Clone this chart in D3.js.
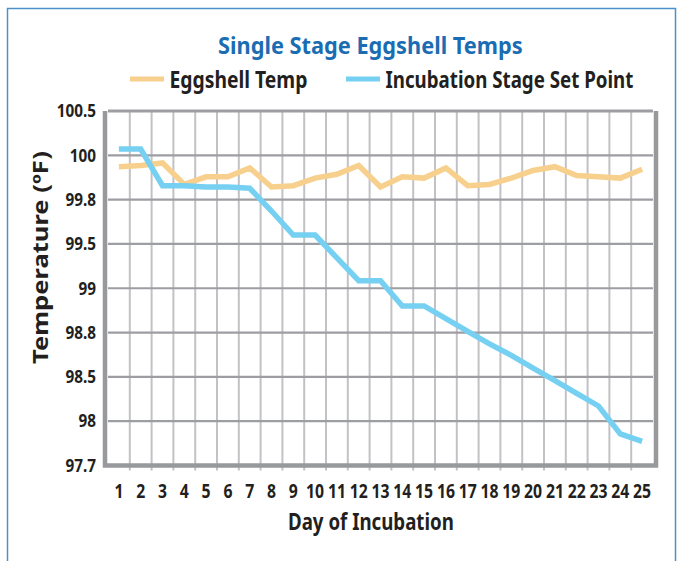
<!DOCTYPE html>
<html>
<head>
<meta charset="utf-8">
<script src="https://cdn.jsdelivr.net/npm/d3@7/dist/d3.min.js"></script>
<style>
    body { margin: 0; background: #fff; }
    text { font-family: "Noto Sans", "Open Sans", sans-serif; font-weight: bold; fill: #231f20; }
</style>
</head>
<body>
<div id="chart"></div>
<script>
// day of incubation
var days = [1, 2, 3, 4, 5, 6, 7, 8, 9, 10, 11, 12, 13, 14, 15, 16, 17, 18, 19, 20, 21, 22, 23, 24, 25];

// eggshell temp (orange)
var eggshell = [100.06, 100.07, 100.09, 99.92, 99.98, 99.98, 100.05, 99.90, 99.91, 99.97, 100.0, 100.07, 99.90,
    99.98, 99.97, 100.05, 99.91, 99.92, 99.97, 100.03, 100.06, 99.99, 99.98, 99.97, 100.04];

// incubation stage set point (blue)
var setPoint = [100.2, 100.2, 99.91, 99.91, 99.90, 99.90, 99.89, 99.71, 99.52, 99.52, 99.34, 99.16, 99.16,
    98.96, 98.96, 98.86, 98.76, 98.66, 98.57, 98.47, 98.37, 98.27, 98.17, 97.95, 97.89];

// y axis: evenly spaced ticks, labelled as in the original
var yTickValues = [97.7, 98.05, 98.4, 98.75, 99.1, 99.45, 99.8, 100.15, 100.5];
var yTickLabels = ["97.7", "98", "98.5", "98.8", "99", "99.5", "99.8", "100", "100.5"];

var margin = {top: 111, right: 25, bottom: 95.5, left: 108};
var W = 678, H = 561;
var width = W - margin.left - margin.right,
    height = H - margin.top - margin.bottom;

var svg = d3.select("#chart").append("svg")
    .attr("width", W)
    .attr("height", H);

// squeeze short labels to a condensed look
function condense(sel, k) {
    sel.each(function () {
        var len = this.getComputedTextLength();
        d3.select(this).attr("textLength", len * k).attr("lengthAdjust", "spacingAndGlyphs");
    });
}
// put a text at (tx,ty), squeezed horizontally to width w (rot = -90 for vertical)
function placeText(parent, str, tx, ty, size, w, rot) {
    var t = parent.append("text")
        .style("font-size", size + "px")
        .text(str);
    var k = w / t.node().getComputedTextLength();
    t.attr("transform", "translate(" + tx + "," + ty + ")" + (rot ? " rotate(" + rot + ")" : "") + " scale(" + k + ",1)");
    return t;
}

// blue frame round the figure
svg.append("path")
    .attr("d", "M7.5,561 V8.5 H675.5 V561")
    .attr("fill", "none")
    .attr("stroke", "#4b8fcb")
    .attr("stroke-width", 1.5);

var g = svg.append("g")
    .attr("transform", "translate(" + margin.left + "," + margin.top + ")");

var x = d3.scaleBand()
    .range([0, width])
    .domain(days);

var y = d3.scaleLinear()
    .range([height, 0])
    .domain([97.7, 100.5]);

// vertical grid lines between days
g.append("g")
    .selectAll("line")
    .data(days.slice(1))
    .enter()
    .append("line")
    .attr("x1", function (d) { return x(d); })
    .attr("x2", function (d) { return x(d); })
    .attr("y1", 0)
    .attr("y2", height + 5)
    .attr("stroke", "#c2c2c6")
    .attr("stroke-width", 2);

// horizontal grid lines
g.append("g")
    .selectAll("line")
    .data(yTickValues.slice(1))
    .enter()
    .append("line")
    .attr("x1", 0)
    .attr("x2", width)
    .attr("y1", function (d) { return y(d); })
    .attr("y2", function (d) { return y(d); })
    .attr("stroke", "#9d9ea2")
    .attr("stroke-width", function (d, i) { return i == yTickValues.length - 2 ? 3 : 2.2; });

// thick frame: left, bottom, right
g.append("path")
    .attr("d", "M-3," + y(100.5) + " V" + (height) + " H" + (width + 3) + " V" + y(100.5))
    .attr("fill", "none")
    .attr("stroke", "#98999d")
    .attr("stroke-width", 4.5);

// axes (labels only)
var xAxis = d3.axisBottom(x).tickSize(0).tickPadding(19);
var gx = g.append("g")
    .attr("transform", "translate(0," + height + ")")
    .call(xAxis);
gx.select(".domain").remove();
gx.selectAll("text").style("font-size", "19px").attr("fill", "#231f20");
condense(gx.selectAll("text"), 0.83);

var yAxis = d3.axisLeft(y)
    .tickValues(yTickValues)
    .tickFormat(function (d, i) { return yTickLabels[i]; })
    .tickSize(0)
    .tickPadding(12);
var gy = g.append("g").call(yAxis);
gy.select(".domain").remove();
gy.selectAll("text").style("font-size", "18px").attr("fill", "#231f20");
condense(gy.selectAll("text"), 0.85);

// lines
var line = function (values) {
    return d3.line()
        .x(function (d, i) { return x(days[i]) + x.bandwidth() / 2; })
        .y(function (d) { return y(d); })(values);
};

g.append("path")
    .attr("d", line(eggshell))
    .attr("fill", "none")
    .attr("stroke", "#f8d08d")
    .attr("stroke-width", 5.5)
    .attr("stroke-linejoin", "miter");

g.append("path")
    .attr("d", line(setPoint))
    .attr("fill", "none")
    .attr("stroke", "#75d0f2")
    .attr("stroke-width", 5.5)
    .attr("stroke-linejoin", "miter");

// title
placeText(svg, "Single Stage Eggshell Temps", 218, 54, 22.5, 305)
    .style("fill", "#1b6db3");

// legend
var legend = [
    {name: "Eggshell Temp", color: "#f8d08d", x: 130, w: 138},
    {name: "Incubation Stage Set Point", color: "#75d0f2", x: 346, w: 248}
];
legend.forEach(function (d) {
    var lg = svg.append("g")
        .attr("class", "legend")
        .attr("transform", "translate(" + d.x + ",79)");
    lg.append("line")
        .attr("x1", 0).attr("x2", 34)
        .attr("stroke", d.color)
        .attr("stroke-width", 5);
    placeText(lg, d.name, 39.5, 8.5, 23.5, d.w);
});

// axis titles
placeText(svg, "Day of Incubation", 288, 530, 22.5, 166);
placeText(svg, "Temperature (ºF)", 48, 364, 21.5, 213, -90);
</script>
</body>
</html>
